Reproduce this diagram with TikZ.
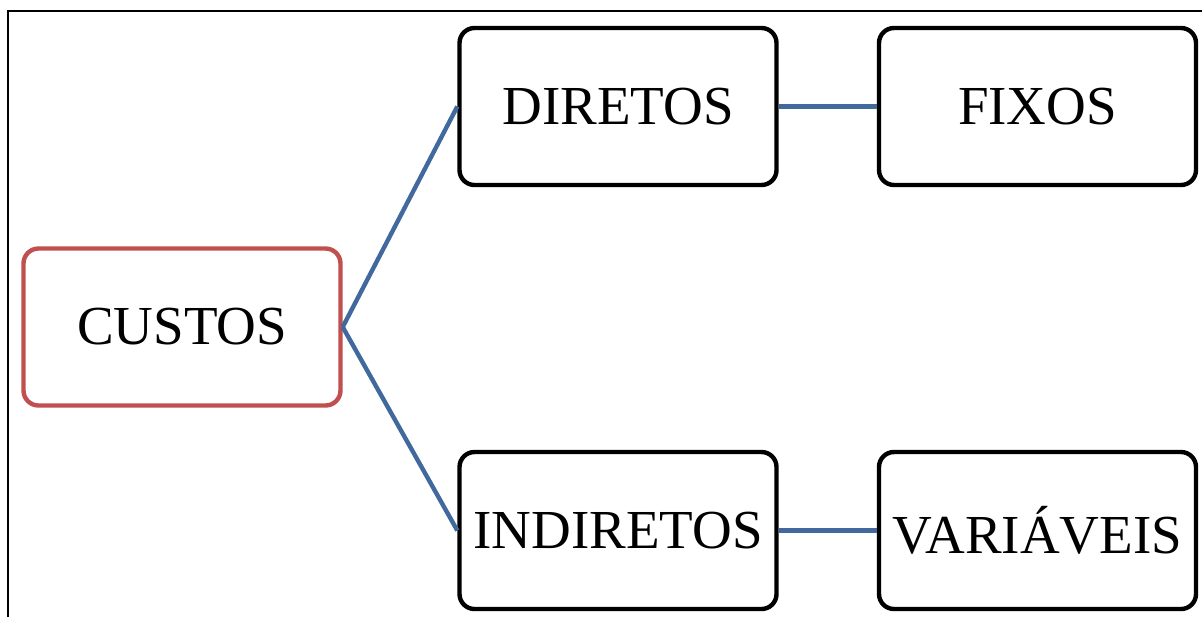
\documentclass[tikz,border=0pt]{standalone}
\usepackage{fontspec}
\setmainfont{Liberation Serif}
\definecolor{custred}{HTML}{C0504D}
\definecolor{linkblue}{HTML}{41699E}
\tikzset{
  costbox/.style = {draw = black, line width = 2.2pt, rounded corners = 7.5pt,
    minimum width = 158.5pt, minimum height = 78.5pt, inner sep = 0pt,
    font = \fontsize{27.5}{30}\selectfont},
  rootbox/.style = {costbox, draw = custred},
  link/.style = {draw = linkblue, line width = 2.2pt}
}
\begin{document}
\begin{tikzpicture}[x = 0.5pt, y = -0.5pt]
\useasboundingbox (0,0) rectangle (1202,617);
\draw[line width = 1pt] (7.5,617) -- (7.5,10.5) -- (1202,10.5);
\path (182,327) node[rootbox] (C) {CUSTOS};
\path (618,106.5) node[costbox] (D) {DIRETOS};
\path (1037.5,106.5) node[costbox] (F) {FIXOS};
\path (618,530.5) node[costbox] (I) {INDIRETOS};
\path (1037.5,530.5) node[costbox] (V) {VARIÁVEIS};
\draw[link] (C.east) -- (D.west);
\draw[link] (C.east) -- (I.west);
\draw[link] (D.east) -- (F.west);
\draw[link] (I.east) -- (V.west);
\end{tikzpicture}
\end{document}
